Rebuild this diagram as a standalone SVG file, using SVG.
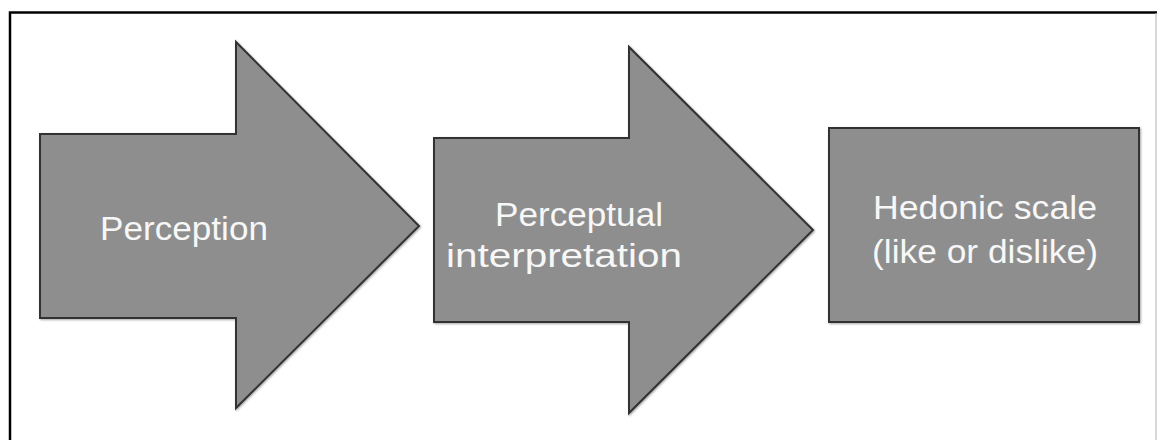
<svg xmlns="http://www.w3.org/2000/svg" width="1157" height="440" viewBox="0 0 1157 440">
  <style>
    .shape { fill: #8e8e8e; stroke: #333333; stroke-width: 2; stroke-linejoin: miter; filter: url(#soft); }
    .label { font-family: "Liberation Sans", Arial, sans-serif; font-size: 33px; fill: #f7f7f7; }
  </style>
  <defs>
    <filter id="soft" x="-5%" y="-5%" width="110%" height="110%">
      <feGaussianBlur in="SourceAlpha" stdDeviation="1.2"/>
      <feOffset dx="0.5" dy="1" result="b"/>
      <feComponentTransfer><feFuncA type="linear" slope="0.35"/></feComponentTransfer>
      <feMerge><feMergeNode/><feMergeNode in="SourceGraphic"/></feMerge>
    </filter>
  </defs>
  <rect width="1157" height="440" fill="#ffffff"/>
  <!-- frame -->
  <path d="M10 440 V12.5 H1157" fill="none" stroke="#000" stroke-width="2.5"/>
  <line x1="1156" y1="13" x2="1156" y2="440" stroke="#bdbdbd" stroke-width="1.2"/>

  <g id="perception">
    <polygon class="shape" points="40,134 236,134 236,42 419,226 236,408 236,318 40,318"/>
    <text class="label" x="100" y="240" textLength="168" lengthAdjust="spacingAndGlyphs">Perception</text>
  </g>

  <g id="perceptual-interpretation">
    <polygon class="shape" points="434,138 629,138 629,47 813,230 629,413 629,322 434,322"/>
    <text class="label" x="495" y="226" textLength="168" lengthAdjust="spacingAndGlyphs">Perceptual</text>
    <text class="label" x="446" y="267" textLength="236" lengthAdjust="spacingAndGlyphs">interpretation</text>
  </g>

  <g id="hedonic-scale">
    <rect class="shape" x="829" y="128" width="310" height="194"/>
    <text class="label" x="873" y="219" textLength="224" lengthAdjust="spacingAndGlyphs">Hedonic scale</text>
    <text class="label" x="872" y="263" textLength="226" lengthAdjust="spacingAndGlyphs">(like or dislike)</text>
  </g>

  <g id="connectors"></g>
</svg>
